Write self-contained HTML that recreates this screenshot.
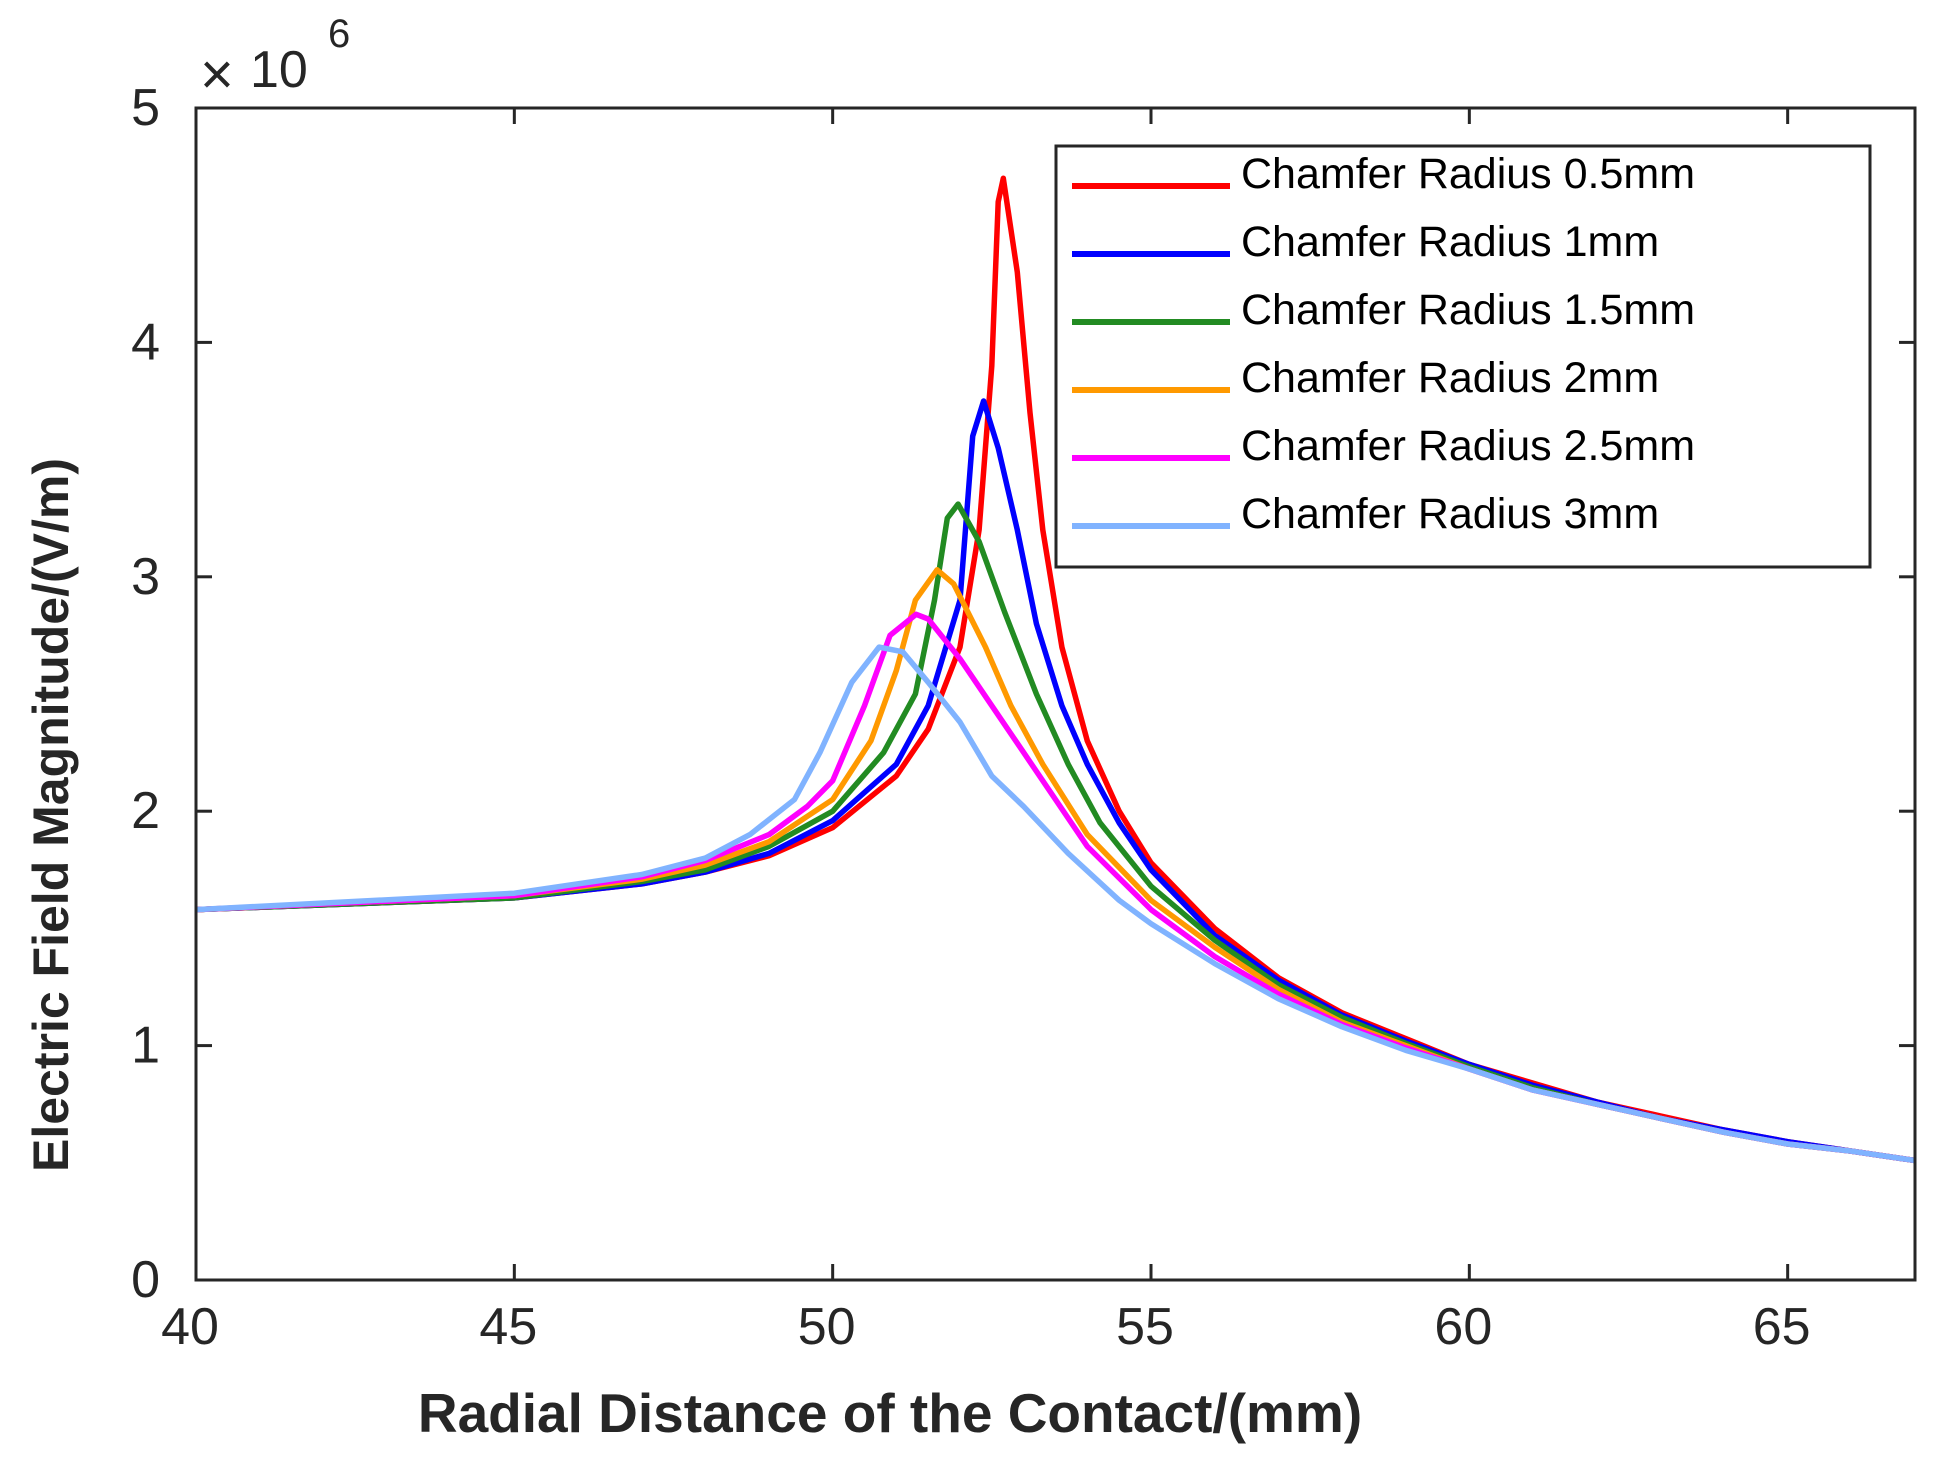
<!DOCTYPE html>
<html><head><meta charset="utf-8"><style>
html,body{margin:0;padding:0;background:#fff;}
svg{display:block;font-family:"Liberation Sans",Arial,sans-serif;}
</style></head><body>
<svg id="chart" width="1934" height="1463" viewBox="0 0 1934 1463" xmlns="http://www.w3.org/2000/svg">
<rect x="0" y="0" width="1934" height="1463" fill="#fff"/>
<g id="plot"></g>
</svg>
<script>
const xTicks=[40,45,50,55,60,65];
const yTicks=[0,1,2,3,4,5];
const seriesNames=["Chamfer Radius 0.5mm","Chamfer Radius 1mm","Chamfer Radius 1.5mm","Chamfer Radius 2mm","Chamfer Radius 2.5mm","Chamfer Radius 3mm"];
const seriesColors=["#ff0000","#0000ff","#228b22","#ff9900","#ff00ff","#80b3ff"];
const redX=[40,45,47,48,49,50,51,51.5,52,52.3,52.5,52.6,52.68,52.9,53.1,53.3,53.6,54,54.5,55,56,57,58,59,60,61,62,63,64,65,66,67];
const redY=[1.58,1.63,1.69,1.74,1.81,1.93,2.15,2.35,2.7,3.2,3.9,4.6,4.7,4.3,3.7,3.2,2.7,2.3,2.0,1.78,1.5,1.29,1.14,1.03,0.92,0.84,0.76,0.70,0.64,0.59,0.55,0.51];
const blueX=[40,45,47,48,49,50,51,51.5,52,52.2,52.37,52.6,52.9,53.2,53.6,54,54.5,55,56,57,58,59,60,61,62,63,64,65,66,67];
const blueY=[1.58,1.63,1.69,1.74,1.82,1.96,2.2,2.45,2.9,3.6,3.75,3.55,3.2,2.8,2.45,2.2,1.95,1.75,1.47,1.28,1.13,1.02,0.92,0.83,0.76,0.69,0.64,0.59,0.55,0.51];
const greenX=[40,45,47,48,49,50,50.8,51.3,51.6,51.8,51.97,52.3,52.7,53.2,53.7,54.2,55,56,57,58,59,60,61,62,63,64,65,66,67];
const greenY=[1.58,1.63,1.7,1.75,1.85,2.0,2.25,2.5,2.9,3.25,3.31,3.15,2.85,2.5,2.2,1.95,1.68,1.45,1.26,1.12,1.01,0.91,0.82,0.75,0.69,0.63,0.58,0.55,0.51];
const orangeX=[40,45,47,48,49,50,50.6,51,51.3,51.64,51.9,52.4,52.8,53.3,54,55,56,57,58,59,60,61,62,63,64,65,66,67];
const orangeY=[1.58,1.64,1.71,1.77,1.87,2.05,2.3,2.6,2.9,3.03,2.97,2.7,2.45,2.2,1.9,1.62,1.42,1.24,1.1,1.0,0.9,0.81,0.75,0.69,0.63,0.58,0.55,0.51];
const magentaX=[40,45,47,48,49,49.6,50,50.5,50.9,51.31,51.5,52,52.5,53,53.5,54,55,56,57,58,59,60,61,62,63,64,65,66,67];
const magentaY=[1.58,1.64,1.72,1.79,1.9,2.02,2.13,2.45,2.75,2.84,2.82,2.65,2.45,2.25,2.05,1.85,1.58,1.38,1.22,1.09,0.99,0.9,0.81,0.75,0.69,0.63,0.58,0.55,0.51];
const lightBlueX=[40,45,47,48,48.7,49.4,49.8,50.3,50.73,51.1,51.5,52,52.5,53,53.7,54.5,55,56,57,58,59,60,61,62,63,64,65,66,67];
const lightBlueY=[1.58,1.65,1.73,1.8,1.9,2.05,2.25,2.55,2.7,2.68,2.55,2.38,2.15,2.02,1.82,1.62,1.52,1.35,1.2,1.08,0.98,0.9,0.81,0.75,0.69,0.63,0.58,0.55,0.51];
const seriesX=[redX,blueX,greenX,orangeX,magentaX,lightBlueX];
const seriesY=[redY,blueY,greenY,orangeY,magentaY,lightBlueY];

const L=196,R=1915,T=108,B=1280;
const xMin=40,xMax=67,yMin=0,yMax=5;
function sx(v){return L+(v-xMin)/(xMax-xMin)*(R-L);}
function sy(v){return B-(v-yMin)/(yMax-yMin)*(B-T);}
const NS="http://www.w3.org/2000/svg";
const g=document.getElementById('plot');
function mk(tag,attrs,parent){const e=document.createElementNS(NS,tag);for(const k in attrs)e.setAttribute(k,attrs[k]);(parent||g).appendChild(e);return e;}

seriesX.forEach((xs,i)=>{
  const d=xs.map((x,j)=>(j?'L':'M')+sx(x).toFixed(1)+' '+sy(seriesY[i][j]).toFixed(1)).join(' ');
  const p=mk('path',{d:d,fill:'none',stroke:seriesColors[i],'stroke-width':5.5,'stroke-linejoin':'round'});
  
  
});
const box=mk('rect',{x:L,y:T,width:R-L,height:B-T,fill:'none',stroke:'#262626','stroke-width':3});


xTicks.forEach(v=>{
  const x=sx(v);
  mk('line',{x1:x,y1:B,x2:x,y2:B-16,stroke:'#262626','stroke-width':3});
  mk('line',{x1:x,y1:T,x2:x,y2:T+16,stroke:'#262626','stroke-width':3});
  const t=mk('text',{x:x-6,y:1344,'font-size':52,'text-anchor':'middle',fill:'#262626'});
  t.textContent=v;
  
  
});
yTicks.forEach(v=>{
  const y=sy(v);
  mk('line',{x1:L,y1:y,x2:L+16,y2:y,stroke:'#262626','stroke-width':3});
  mk('line',{x1:R,y1:y,x2:R-16,y2:y,stroke:'#262626','stroke-width':3});
  const t=mk('text',{x:160,y:y+17,'font-size':52,'text-anchor':'end',fill:'#262626'});
  t.textContent=v;
  
  
});
const ex0=mk('text',{x:200,y:94,'font-size':58,'font-weight':'normal',fill:'#262626'});
ex0.textContent='\u00d7';


const ex=mk('text',{x:250,y:87,'font-size':52,fill:'#262626'});
ex.textContent='10';


const ex2=mk('text',{x:328,y:47,'font-size':40,fill:'#262626'});
ex2.textContent='6';


const xt=mk('text',{x:890,y:1432,'font-size':55,'font-weight':'bold','text-anchor':'middle',fill:'#262626'});
xt.textContent='Radial Distance of the Contact/(mm)';


const yt=mk('text',{x:0,y:0,'font-size':50,'font-weight':'bold','text-anchor':'middle',fill:'#262626',transform:'translate(68,815) rotate(-90)'});
yt.textContent='Electric Field Magnitude/(V/m)';


const lg=mk('g',{});


mk('rect',{x:1056,y:146,width:814,height:421,fill:'#fff',stroke:'#262626','stroke-width':3},lg);
seriesNames.forEach((n,i)=>{
  const y=186+i*68;
  const ln=mk('line',{x1:1072,y1:y,x2:1230,y2:y,stroke:seriesColors[i],'stroke-width':6},lg);
  
  
  const t=mk('text',{x:1241,y:y+2,'font-size':43,fill:'#000'},lg);
  t.textContent=n;
  
  
});
</script>
</body></html>
